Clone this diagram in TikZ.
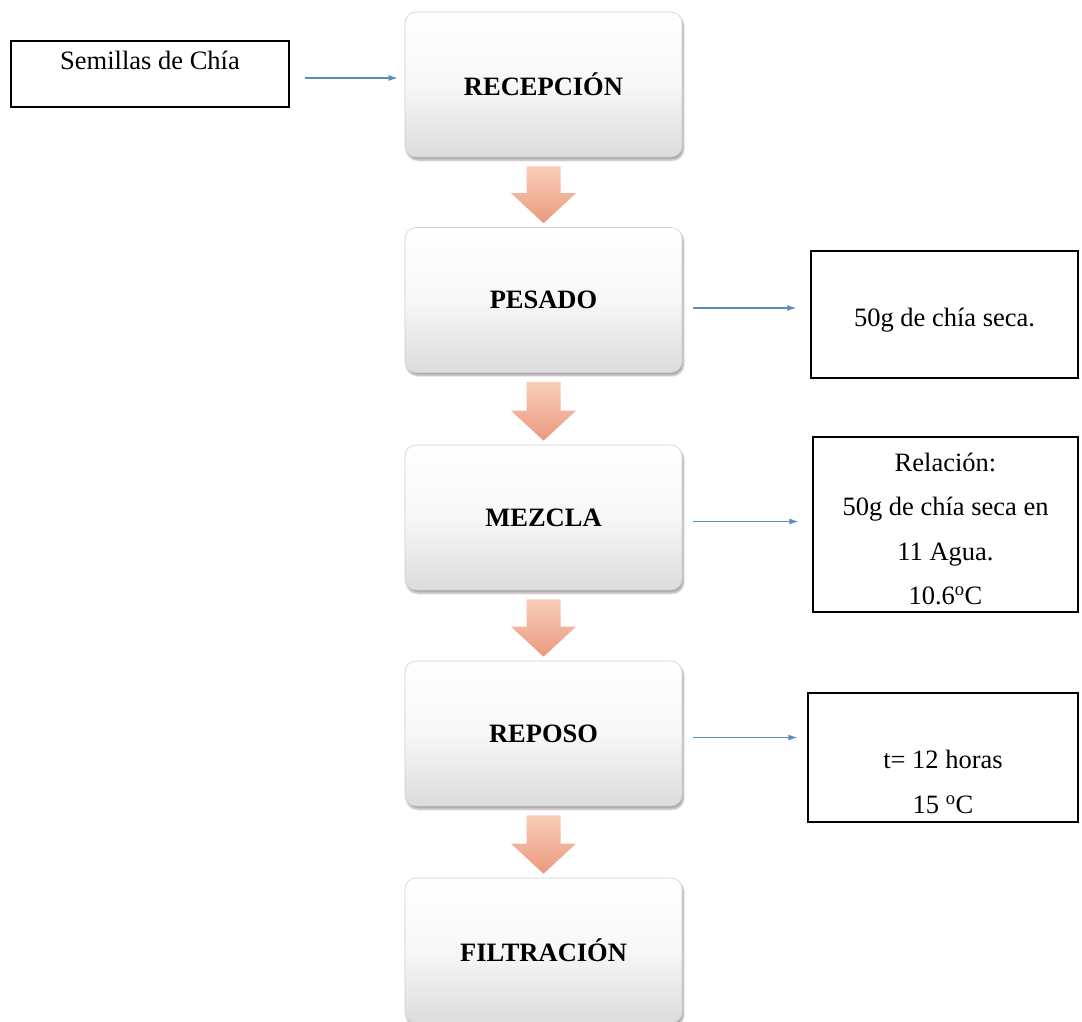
\documentclass[tikz,border=0pt]{standalone}
\usepackage{fontspec}
\setmainfont{Liberation Serif}
\usetikzlibrary{calc,shadows.blur,arrows.meta}

\definecolor{linkblue}{HTML}{5B8DBA}
\definecolor{salmonTop}{HTML}{F9CDB8}
\definecolor{salmonBot}{HTML}{EA9A7F}
\definecolor{boxEdge}{HTML}{D0D0D0}
\definecolor{boxBottom}{HTML}{DCDCDC}

\tikzset{
  stage/.style={rounded corners=11pt, draw=boxEdge, line width=0.6pt,
    top color=white, bottom color=boxBottom, middle color=white!97!black,
    minimum width=277pt, minimum height=145pt, inner sep=0pt,
    font=\fontsize{26.5}{30}\selectfont\bfseries,
    blur shadow={shadow blur steps=6, shadow xshift=1.5pt, shadow yshift=-3pt, shadow opacity=35}},
  note/.style={draw=black, line width=1.2pt, fill=white, inner sep=0pt,
    align=center, font=\fontsize{26.5}{44.5}\selectfont},
  feed/.style={draw=linkblue, line width=1.2pt, -{Latex[length=9pt,width=6pt]}},
  flowdown/.style={top color=salmonTop, bottom color=salmonBot, draw=none}
}

% wide block arrow between two stacked stages
\newcommand\stagearrow[2]{%
  \path[flowdown] let \p1=($(#1.south)+(0,-9pt)$), \p2=($(#2.north)+(0,4pt)$) in
    (\x1-17pt,\y1) -- (\x1+17pt,\y1) -- (\x1+17pt,\y2+30pt) -- (\x1+32.5pt,\y2+30pt)
    -- (\x1,\y2) -- (\x1-32.5pt,\y2+30pt) -- (\x1-17pt,\y2+30pt) -- cycle;}

\begin{document}
\begin{tikzpicture}[x=1pt,y=-1pt]
  \useasboundingbox (0,0) rectangle (1082,1021);

  % process stages
  \node[stage] (rec) at (543.5,84.5) {RECEPCIÓN};
  \node[stage] (pes) at (543.5,300) {PESADO};
  \node[stage] (mez) at (543.5,517.5) {MEZCLA};
  \node[stage] (rep) at (543.5,733.5) {REPOSO};
  \node[stage] (fil) at (543.5,950.5) {FILTRACIÓN};

  % inputs and conditions
  \node[note, minimum width=278pt, minimum height=66pt] (sem) at (150,74)
    {\raisebox{5pt}[0pt][0pt]{Semillas de Chía}};
  \node[note, minimum width=267pt, minimum height=127pt] (dry) at (944.5,314.5)
    {\raisebox{-12pt}[0pt][0pt]{50g de chía seca.}};
  \node[note, minimum width=265pt, minimum height=175pt] (rat) at (945.5,524.5)
    {\rule{0pt}{27pt}Relación:\\50g de chía seca en\\11 Agua.\\10.6\textsuperscript{o}C};
  \node[note, minimum width=270pt, minimum height=129pt] (rst) at (943,757.5)
    {\raisebox{-31pt}[0pt][0pt]{\begin{tabular}{@{}c@{}}t= 12 horas\\15 \textsuperscript{o}C\end{tabular}}};

  % side feeds
  \draw[feed, shorten <=15pt, shorten >=7pt] ([yshift=-4pt]sem.east) -- ([yshift=-4pt]sem.east -| rec.west);
  \draw[feed, shorten <=11pt, shorten >=14pt] ([yshift=-8pt]pes.east) -- ([yshift=-8pt]pes.east -| dry.west);
  \draw[feed, shorten <=11pt, shorten >=14pt] ([yshift=-4pt]mez.east) -- ([yshift=-4pt]mez.east -| rat.west);
  \draw[feed, shorten <=11pt, shorten >=10pt] ([yshift=-4pt]rep.east) -- ([yshift=-4pt]rep.east -| rst.west);

  % flow between stages
  \stagearrow{rec}{pes}
  \stagearrow{pes}{mez}
  \stagearrow{mez}{rep}
  \stagearrow{rep}{fil}
\end{tikzpicture}
\end{document}
